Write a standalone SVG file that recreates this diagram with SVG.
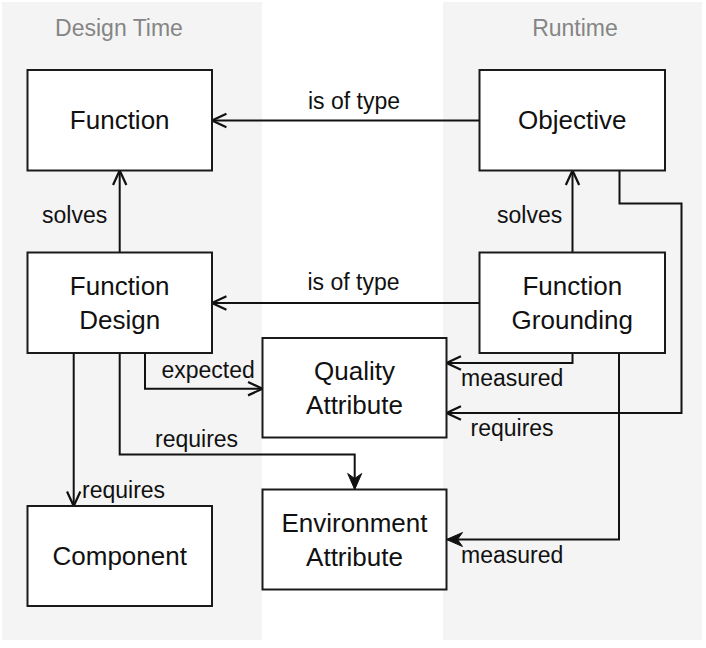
<svg xmlns="http://www.w3.org/2000/svg" width="706" height="648" viewBox="0 0 706 648">
  <style>
    .panel { fill: #f4f4f4; stroke: none; }
    .title { font-family: "Liberation Sans", Arial, sans-serif; font-size: 23px; fill: #858585; text-anchor: middle; }
    .box { fill: #ffffff; stroke: #1a1a1a; stroke-width: 2; }
    .ntext { font-family: "Liberation Sans", Arial, sans-serif; font-size: 26px; fill: #111111; text-anchor: middle; }
    .edge { fill: none; stroke: #111111; stroke-width: 2; }
    .lbl { font-family: "Liberation Sans", Arial, sans-serif; font-size: 23px; fill: #111111; }
  </style>
  <defs>
    <marker id="open" markerUnits="userSpaceOnUse" markerWidth="20" markerHeight="20" refX="0" refY="0" viewBox="-16 -8 18 16" orient="auto" overflow="visible">
      <path d="M-13,-6 L0,0 L-13,6" fill="none" stroke="#111111" stroke-width="2"/>
    </marker>
    <marker id="filled" markerUnits="userSpaceOnUse" markerWidth="20" markerHeight="20" refX="0" refY="0" viewBox="-18 -8 20 16" orient="auto" overflow="visible">
      <path d="M0,0 L-16,-7 L-11,0 L-16,7 Z" fill="#111111" stroke="#111111" stroke-width="1"/>
    </marker>
  </defs>

  <g id="panels">
    <rect class="panel" x="2" y="2" width="260" height="638"/>
    <rect class="panel" x="443" y="2" width="259" height="638"/>
    <text class="title" x="119" y="36">Design Time</text>
    <text class="title" x="575" y="36">Runtime</text>
  </g>

  <g id="connectors">
    <path class="edge" d="M479.5,120.5 H212" marker-end="url(#open)"/>
    <path class="edge" d="M119.7,252.5 V170.5" marker-end="url(#open)"/>
    <path class="edge" d="M572.5,252.5 V170.5" marker-end="url(#open)"/>
    <path class="edge" d="M479.5,303 H212" marker-end="url(#open)"/>
    <path class="edge" d="M145,353 V388.7 H262.5" marker-end="url(#open)"/>
    <path class="edge" d="M572.5,353 V363 H446.5" marker-end="url(#open)"/>
    <path class="edge" d="M619.5,170.5 V203.5 H681.5 V413 H446.5" marker-end="url(#open)"/>
    <path class="edge" d="M119.7,353 V454.5 H354.7 V489.5" marker-end="url(#filled)"/>
    <path class="edge" d="M73.7,353 V506" marker-end="url(#open)"/>
    <path class="edge" d="M619,353 V539.5 H446.5" marker-end="url(#filled)"/>
    <text class="lbl" x="354" y="109" text-anchor="middle">is of type</text>
    <text class="lbl" x="353.5" y="290" text-anchor="middle">is of type</text>
    <text class="lbl" x="42" y="222.5">solves</text>
    <text class="lbl" x="497" y="222.5">solves</text>
    <text class="lbl" x="161.5" y="377.5">expected</text>
    <text class="lbl" x="461" y="385.5">measured</text>
    <text class="lbl" x="470.5" y="436">requires</text>
    <text class="lbl" x="155" y="447">requires</text>
    <text class="lbl" x="82" y="497.5">requires</text>
    <text class="lbl" x="461" y="563">measured</text>
  </g>

  <g id="function">
    <rect class="box" x="27.5" y="70" width="184.5" height="100.5"/>
    <text class="ntext" x="119.7" y="129.3">Function</text>
  </g>
  <g id="objective">
    <rect class="box" x="479.5" y="70" width="185.5" height="100.5"/>
    <text class="ntext" x="572.3" y="129.3">Objective</text>
  </g>
  <g id="function-design">
    <rect class="box" x="27.5" y="252.5" width="184.5" height="100.5"/>
    <text class="ntext" x="119.7" y="295">Function</text>
    <text class="ntext" x="119.7" y="329">Design</text>
  </g>
  <g id="function-grounding">
    <rect class="box" x="479.5" y="252.5" width="185.5" height="100.5"/>
    <text class="ntext" x="572.3" y="295">Function</text>
    <text class="ntext" x="572.3" y="329">Grounding</text>
  </g>
  <g id="quality-attribute">
    <rect class="box" x="262.5" y="338" width="184" height="99.5"/>
    <text class="ntext" x="354.5" y="380">Quality</text>
    <text class="ntext" x="354.5" y="414">Attribute</text>
  </g>
  <g id="environment-attribute">
    <rect class="box" x="262.5" y="489.5" width="184" height="100"/>
    <text class="ntext" x="354.5" y="531.5">Environment</text>
    <text class="ntext" x="354.5" y="565.5">Attribute</text>
  </g>
  <g id="component">
    <rect class="box" x="27.5" y="506" width="184.5" height="100"/>
    <text class="ntext" x="119.7" y="565">Component</text>
  </g>
</svg>
